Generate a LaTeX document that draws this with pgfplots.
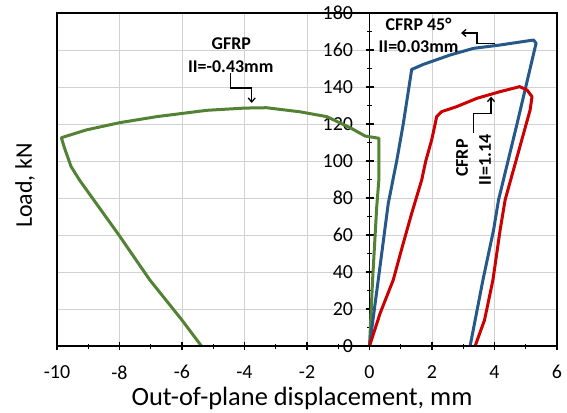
\documentclass[border=0pt]{standalone}
\usepackage{pgfplots}
\pgfplotsset{compat=1.18}
\usepackage{fontspec}
\setmainfont{Carlito}
\usetikzlibrary{arrows.meta}
\definecolor{gfrp}{RGB}{84,130,53}
\definecolor{cblue}{RGB}{38,88,138}
\definecolor{cred}{RGB}{204,0,0}
\begin{document}
\begin{tikzpicture}
\begin{axis}[
  scale only axis, width=500bp, height=333bp,
  xmin=-10, xmax=6, ymin=0, ymax=180,
  axis x line=bottom, axis y line=middle,
  axis line style={-, line width=1.2bp, black},
  xtick={-10,-8,...,6}, ytick={0,20,...,180},
  minor x tick num=1, minor y tick num=1,
  grid=major, major grid style={black!18, line width=0.8bp},
  tick align=center, major tick length=8bp, minor tick length=5bp,
  tick style={black, line width=1.2bp},
  /pgf/number format/assume math mode=true,
  tick label style={font=\fontsize{20}{22}\selectfont},
  xticklabel style={yshift=-12bp},
  yticklabel style={anchor=east, xshift=-9bp},
  hide obscured y ticks=false,
  xlabel={Out-of-plane displacement, mm},
  ylabel={Load, kN},
  every axis x label/.style={at={(rel axis cs:0.49,0)}, anchor=center, yshift=-52bp, font=\fontsize{26.5}{29}\selectfont},
  every axis y label/.style={at={(rel axis cs:-0.064,0.482)}, anchor=center, rotate=90, font=\fontsize{24}{26}\selectfont},
  clip=false,
]
% GFRP
\addplot[gfrp, line width=3bp, line join=round] coordinates {
(0,0) (0.1,36) (0.23,75) (0.3,90) (0.3,112.3) (-0.14,113.5) (-0.62,118) (-1.37,124) (-2.23,126.6) (-3.3,128.8) (-4.0,128.6) (-5.2,127.4) (-6.8,124) (-8,120.7) (-9.06,116.8) (-9.86,112.6) (-9.76,107) (-9.55,97) (-9.28,89.7) (-8.02,60) (-7.03,35.7) (-6,14) (-5.38,0)
};
% CFRP 45
\addplot[cblue, line width=3bp, line join=round] coordinates {
(0,0) (0.28,35.7) (0.6,77) (0.87,100) (1.08,120) (1.35,149.5) (1.72,152.2) (2.58,157.3) (3.33,160.9) (4.18,162.7) (5.25,165.4) (5.33,163.6) (4.72,120) (4.13,79) (3.97,62.7) (3.63,35.7) (3.22,0)
};
% CFRP
\addplot[cred, line width=3bp, line join=round] coordinates {
(0,0) (0.34,17.7) (0.76,35.7) (1.05,53.7) (1.35,71.7) (1.67,89.7) (1.8,100) (1.99,111.4) (2.1,120) (2.15,124) (2.31,126.7) (2.79,129.4) (3.44,133.9) (4.18,137.5) (4.72,139.8) (4.8,140.2) (5.04,138.4) (5.2,134.8) (5.14,127.6) (4.34,79) (4.18,62.7) (3.95,35.7) (3.68,14) (3.38,0)
};
\draw[line width=1.2bp] (rel axis cs:0,0) rectangle (rel axis cs:1,1);
% annotations
\node[font=\bfseries\fontsize{18}{20}\selectfont] at (axis cs:-4.42,163.6) {GFRP};
\node[font=\bfseries\fontsize{18}{20}\selectfont] at (axis cs:-4.44,151) {II=-0.43mm};
\draw[line width=1.3bp, -{Straight Barb[length=4bp,width=7bp]}] (axis cs:-4.44,147.4) -- (axis cs:-4.44,139.5) -- (axis cs:-3.77,139.5) -- (axis cs:-3.77,131.4);
\node[font=\bfseries\fontsize{18}{20}\selectfont] at (axis cs:1.57,174) {CFRP 45°};
\node[font=\bfseries\fontsize{18}{20}\selectfont] at (axis cs:1.57,161.8) {II=0.03mm};
\draw[line width=1.3bp, -{Straight Barb[length=4bp,width=7bp]}] (axis cs:4.02,163.6) -- (axis cs:3.44,163.6) -- (axis cs:3.44,169.2) -- (axis cs:2.93,169.2);
\node[rotate=90, font=\bfseries\fontsize{18}{20}\selectfont] at (axis cs:2.96,101.6) {CFRP};
\node[rotate=90, font=\bfseries\fontsize{18}{20}\selectfont] at (axis cs:3.7,100.5) {II=1.14};
\draw[line width=1.3bp, -{Straight Barb[length=4bp,width=7bp]}] (axis cs:3.33,115) -- (axis cs:3.33,125.8) -- (axis cs:3.89,125.8) -- (axis cs:3.89,134.8);
\end{axis}
\pgfresetboundingbox
\path (-57bp,-67bp) rectangle (510bp,346bp);
\end{tikzpicture}
\end{document}
